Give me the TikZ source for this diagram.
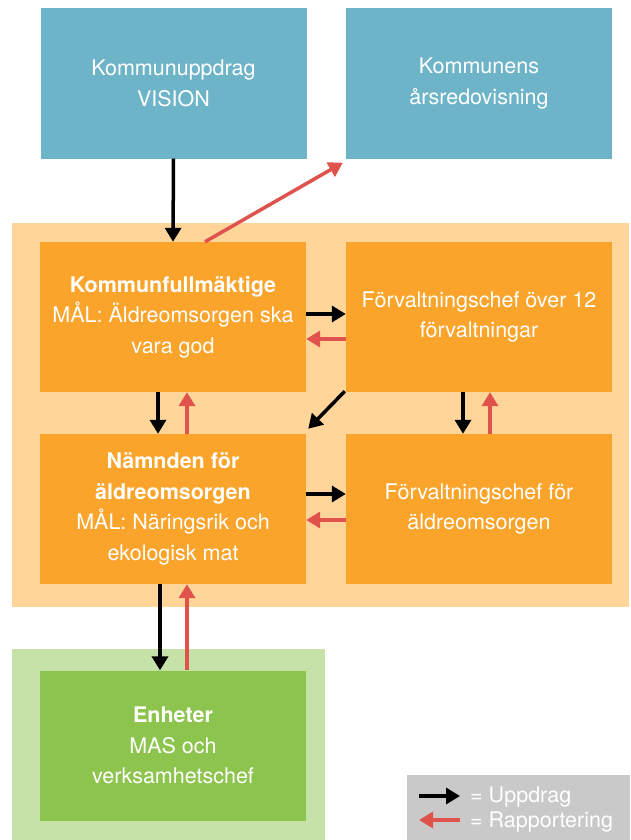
\documentclass[tikz,border=0pt]{standalone}
\usepackage{fontspec}
\setmainfont{TeX Gyre Heros}
\usetikzlibrary{arrows.meta}
\definecolor{visionblue}{HTML}{6EB4C8}
\definecolor{boxorange}{HTML}{FBA42C}
\definecolor{bgorange}{HTML}{FFD59A}
\definecolor{boxgreen}{HTML}{8DC44E}
\definecolor{bggreen}{HTML}{C7E2A9}
\definecolor{leggrey}{HTML}{C9C9C9}
\definecolor{rapred}{HTML}{E0524C}
\tikzset{
  box/.style={fill=#1, minimum width=266pt, minimum height=150pt, inner sep=0pt,
    align=center, text=white, font=\fontsize{21.5}{30.5}\selectfont},
  uppdrag/.style={-{Triangle[length=14pt,width=16pt]}, line width=3.5pt, black},
  rapport/.style={-{Triangle[length=14pt,width=16pt]}, line width=3.5pt, rapred}
}
\begin{document}
\begin{tikzpicture}[x=1pt,y=-1pt]
    \useasboundingbox (0,0) rectangle (630,840);
    \fill[bgorange] (12,223) rectangle (629,607);
    \fill[bggreen] (12,649) rectangle (325,840);
    \fill[leggrey] (407,775) rectangle (630,840);

    \node[box=visionblue] (vision) at (173.5,83.5) {Kommunuppdrag\\VISION};
    \node[box=visionblue] (ars) at (479,83.5) {Kommunens\\årsredovisning};
    \node[box=boxorange] (kf) at (173,317) {\textbf{Kommunfullmäktige}\\MÅL: Äldreomsorgen ska\\vara god};
    \node[box=boxorange] (f12) at (479,317) {Förvaltningschef över 12\\förvaltningar};
    \node[box=boxorange] (nf) at (173,509) {\textbf{Nämnden för}\\\textbf{äldreomsorgen}\\MÅL: Näringsrik och\\ekologisk mat};
    \node[box=boxorange] (fa) at (479,509) {Förvaltningschef för\\äldreomsorgen};
    \node[box=boxgreen] (enh) at (173,745.5) {\textbf{Enheter}\\MAS och\\verksamhetschef};

    \draw[uppdrag] (vision.south) -- (kf.north);
    \draw[rapport] ([xshift=32pt]kf.north) -- ([shift={(-3pt,-4pt)}]ars.south west);
    \draw[uppdrag] ([yshift=3pt]kf.east) -- ([yshift=3pt]f12.west);
    \draw[rapport] ([yshift=-22pt]f12.west) -- ([yshift=-22pt]kf.east);
    \draw[uppdrag] ([shift={(-1pt,1pt)}]f12.south west) -- ([shift={(2pt,5pt)}]nf.north east);
    \draw[uppdrag] ([xshift=-15pt]kf.south) -- ([xshift=-15pt]nf.north);
    \draw[rapport] ([xshift=14pt]nf.north) -- ([xshift=14pt]kf.south);
    \draw[uppdrag] ([xshift=-16pt]f12.south) -- ([xshift=-16pt]fa.north);
    \draw[rapport] ([xshift=11pt]fa.north) -- ([xshift=11pt]f12.south);
    \draw[uppdrag] ([yshift=15pt]nf.east) -- ([yshift=15pt]fa.west);
    \draw[rapport] ([yshift=-11pt]fa.west) -- ([yshift=-11pt]nf.east);
    \draw[uppdrag] ([xshift=-13pt]nf.south) -- ([xshift=-13pt]enh.north);
    \draw[rapport] ([xshift=14pt]enh.north) -- ([xshift=14pt]nf.south);

    % legend
    \node[anchor=west, inner sep=0pt, text=white, font=\fontsize{21.5}{25}\selectfont] (upp) at (470,797) {= Uppdrag};
    \node[anchor=west, inner sep=0pt, text=white, font=\fontsize{21.5}{25}\selectfont] (rap) at (470,822) {= Rapportering};
    \coordinate (lu) at (419,796);
    \coordinate (lr) at (419,820);
    \draw[uppdrag] (lu) -- ([shift={(-10pt,1pt)}]upp.west);
    \draw[rapport] ([shift={(-10pt,2pt)}]rap.west) -- (lr);
\end{tikzpicture}
\end{document}
